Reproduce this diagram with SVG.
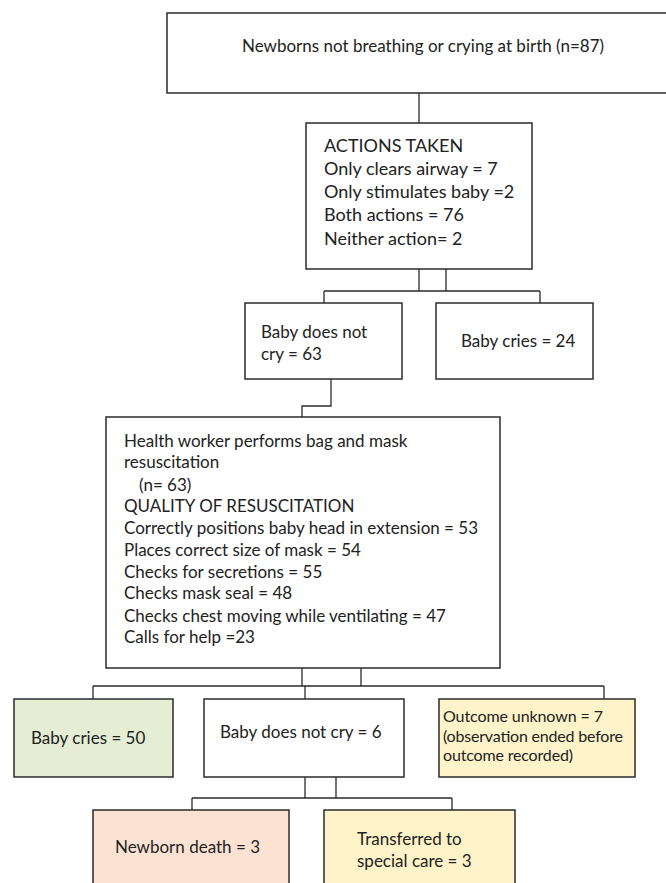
<svg xmlns="http://www.w3.org/2000/svg" width="666" height="883" viewBox="0 0 666 883">
<style>
.box{stroke:#2b2b2b;stroke-width:1.5;fill:#fff}
.green{fill:#e5eed5}
.yellow{fill:#fef3c9}
.peach{fill:#fbe2d3}
.t{font-family:Lato,"Liberation Sans",sans-serif;font-size:17px;fill:#222}
.s{font-size:16px}
.l{font-size:18px}
.c{fill:none;stroke:#2b2b2b;stroke-width:1.3}
</style>
<g id="connectors">
<path class="c" d="M419,93V123"/>
<path class="c" d="M419,269V291M446,269V291M324,291H540M324,291V303M540,291V303"/>
<path class="c" d="M331,379V406H302V417"/>
<path class="c" d="M302,668V686M361,668V686M93,686H604M93,686V699M305,686V699M604,686V699"/>
<path class="c" d="M305,777V798M336,777V798M192,798H452M192,798V810M452,798V810"/>
</g>
<g id="n1"><rect class="box" x="167" y="13" width="520" height="80"/>
<text class="t" x="242" y="52">Newborns not breathing or crying at birth (n=87)</text></g>
<g id="n2"><rect class="box" x="306" y="123" width="226" height="146"/>
<text class="t l" x="324" y="152">ACTIONS TAKEN</text>
<text class="t l" x="324" y="175">Only clears airway = 7</text>
<text class="t l" x="324" y="198">Only stimulates baby =2</text>
<text class="t l" x="324" y="221">Both actions = 76</text>
<text class="t l" x="324" y="245">Neither action= 2</text></g>
<g id="n3"><rect class="box" x="245" y="303" width="157" height="76"/>
<text class="t" x="261" y="338">Baby does not</text>
<text class="t" x="261" y="360">cry = 63</text></g>
<g id="n4"><rect class="box" x="436" y="303" width="157" height="76"/>
<text class="t" x="461" y="347">Baby cries = 24</text></g>
<g id="n5"><rect class="box" x="106" y="417" width="394" height="251"/>
<text class="t" x="124" y="447">Health worker performs bag and mask</text>
<text class="t" x="124" y="468">resuscitation</text>
<text class="t" x="139" y="491">(n= 63)</text>
<text class="t" x="124" y="512">QUALITY OF RESUSCITATION</text>
<text class="t" x="124" y="534">Correctly positions baby head in extension = 53</text>
<text class="t" x="124" y="556">Places correct size of mask = 54</text>
<text class="t" x="124" y="578">Checks for secretions = 55</text>
<text class="t" x="124" y="599">Checks mask seal = 48</text>
<text class="t" x="124" y="622">Checks chest moving while ventilating = 47</text>
<text class="t" x="124" y="643">Calls for help =23</text></g>
<g id="n6"><rect class="box green" x="14" y="699" width="159" height="78"/>
<text class="t" x="31" y="744">Baby cries = 50</text></g>
<g id="n7"><rect class="box" x="204" y="699" width="200" height="78"/>
<text class="t" x="220" y="738">Baby does not cry = 6</text></g>
<g id="n8"><rect class="box yellow" x="439" y="699" width="196" height="78"/>
<text class="t s" x="443" y="722" textLength="160">Outcome unknown = 7</text>
<text class="t s" x="443" y="742" textLength="180">(observation ended before</text>
<text class="t s" x="443" y="761" textLength="130">outcome recorded)</text></g>
<g id="n9"><rect class="box peach" x="93" y="810" width="196" height="90"/>
<text class="t" x="115" y="853">Newborn death = 3</text></g>
<g id="n10"><rect class="box yellow" x="324" y="810" width="191" height="90"/>
<text class="t" x="357" y="845">Transferred to</text>
<text class="t" x="357" y="867">special care = 3</text></g>
</svg>
